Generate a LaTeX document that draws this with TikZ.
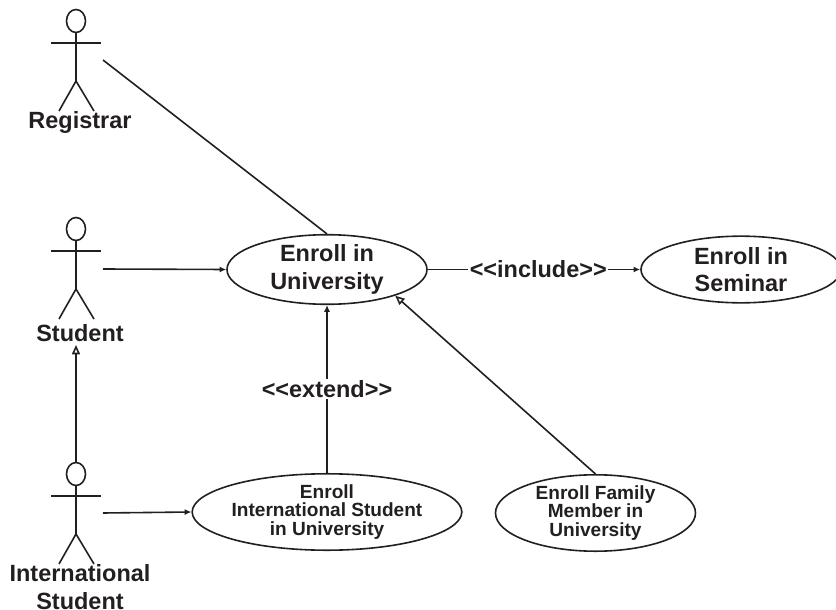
\documentclass[tikz,border=0pt]{standalone}
\usepackage{fontspec}
\setmainfont{Liberation Sans}
\usetikzlibrary{arrows.meta,shapes.geometric}
\definecolor{ink}{HTML}{231F20}
\tikzset{
  >={Latex[length=5pt,width=4.5pt]},
  x=.75pt,
  y=-.75pt,
}
\tikzstyle{line}=[draw=ink,line width=1.2pt]
\tikzstyle{assoc}=[line,->]
\tikzstyle{inherit}=[line,-{Triangle[open,length=7pt,width=6pt]}]
\tikzstyle{usecase}=[line,ellipse,inner sep=0pt,align=center,text=ink,font=\bfseries\fontsize{17.6}{20.5}\selectfont]
\tikzstyle{bigcase}=[usecase,minimum width=150pt,minimum height=50pt]
\tikzstyle{smallcase}=[usecase,minimum width=150pt,minimum height=50.5pt,font=\bfseries\fontsize{14.3}{13.6}\selectfont]
\tikzstyle{actorname}=[align=center,inner sep=0pt,text=ink,font=\bfseries\fontsize{17.6}{20.8}\selectfont]
\tikzstyle{stereo}=[fill=white,inner sep=1pt,text=ink,font=\bfseries\fontsize{17.6}{20}\selectfont]

\begin{document}
\begin{tikzpicture}
  \useasboundingbox (0,0) rectangle (836,610);
  % stick figures
  \foreach \off in {0,208,453}{
    \draw[line] (76,21+\off) ellipse (9.5 and 11.5);
    \draw[line] (76,32+\off)--(76,81+\off);
    \draw[line] (51,43+\off)--(101,43+\off);
    \draw[line] (59,111+\off)--(76,81+\off)--(94,111+\off);
  }
  \node[actorname] (registrar) at (80,122) {Registrar};
  \node[actorname] (student) at (80,333) {Student};
  \node[actorname] (intlstudent) at (80,587) {International\\Student};
  % use cases
  \node[bigcase] (university) at (327,269.5) {Enroll in\\University};
  \node[bigcase] (seminar) at (741,269.5) {Enroll in\\Seminar};
  \node[smallcase] (intlcase) at (327,512) {Enroll\\International Student\\in University};
  \node[smallcase] (familycase) at (595.5,513) {Enroll Family\\Member in\\University};
  % free ends next to the figures
  \coordinate (registrarhand) at (103,60);
  \coordinate (studenthand) at (103,269);
  \coordinate (intlhand) at (103,513);
  \coordinate (intlhead) at (76,462);
  \coordinate (studentfoot) at (76,345);
  % connectors
  \draw[line] (registrarhand)--(university.north);
  \draw[assoc] (studenthand)--(university.west);
  \draw[assoc] (intlhand)--(intlcase.west);
  \draw[inherit] (intlhead)--(studentfoot);
  \draw[assoc] (university.east)--(seminar.west)
    node[stereo,pos=.52] (include) {<{}<include>{}>};
  \draw[assoc] (intlcase.north)--(university.south)
    node[stereo,midway] (extend) {<{}<extend>{}>};
  \draw[inherit] (familycase.north)--(university.-21.5);
\end{tikzpicture}
\end{document}
